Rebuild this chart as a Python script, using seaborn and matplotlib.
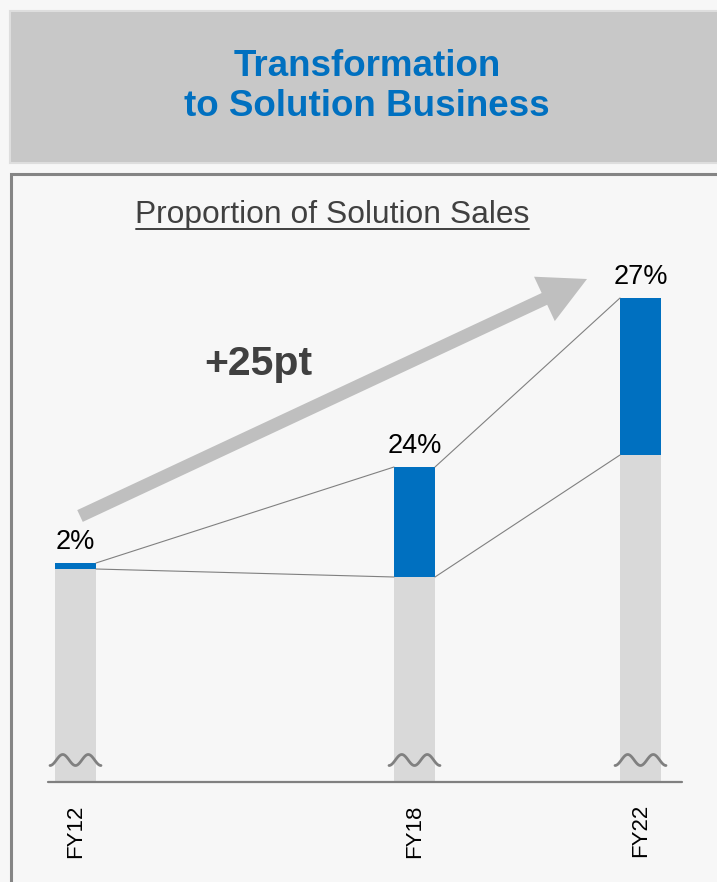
import numpy as np
import pandas as pd
import matplotlib
matplotlib.use("Agg")
import matplotlib.pyplot as plt
from matplotlib.patches import Rectangle, FancyArrow
import seaborn as sns

# chart data (heights in display units above the broken baseline)
fiscal_years = [12, 18, 22]
fy_labels = ["FY12", "FY18", "FY22"]
other_sales = [213, 205, 327]
solution_sales = [6, 110, 157]
share_labels = ["2%", "24%", "27%"]
growth_label = "+25pt"

BLUE = "#0070c0"
GREY_BAR = "#d9d9d9"
LINE = "#808080"
BG = "#f7f7f7"

sns.set_theme(style="white")
plt.rcParams["font.family"] = ["Liberation Sans", "DejaVu Sans"]

df = pd.DataFrame({
    "year": fiscal_years,
    "other": other_sales,
    "solution": solution_sales,
})
df["total"] = df["other"] + df["solution"]

W, H = 717, 882
fig = plt.figure(figsize=(W / 100, H / 100), dpi=100, facecolor=BG)

# overlay in pixel coordinates for the framing and annotations
deco = fig.add_axes([0, 0, 1, 1], zorder=0)
deco.set_xlim(0, W)
deco.set_ylim(H, 0)
deco.axis("off")

deco.add_patch(Rectangle((10, 11), 720, 152, facecolor="#c8c8c8",
                         edgecolor="#dedede", lw=1.5))
deco.add_patch(Rectangle((11, 174), 730, 740, facecolor=BG,
                         edgecolor="#858585", lw=2.2))
deco.text(367, 66, "Transformation", ha="center", va="center",
          fontsize=26.5, fontweight="bold", color=BLUE)
deco.text(367, 107, "to Solution Business", ha="center", va="center",
          fontsize=26.5, fontweight="bold", color=BLUE)

deco.text(332, 223, "Proportion of Solution Sales", ha="center",
          va="baseline", fontsize=22.9, color="#404040")
deco.plot([136, 529], [229, 229], color="#404040", lw=1.4)

deco.add_patch(FancyArrow(80, 516, 507, -237, width=13, head_width=49,
                          head_length=47, length_includes_head=True,
                          facecolor="#bfbfbf", edgecolor="none"))
deco.text(258, 364, growth_label, ha="center", va="center",
          fontsize=29.5, fontweight="bold", color="#404040")

# main chart axes: 56.5 px per fiscal year, 1 unit per px vertically
px_per_year = 56.5
x0 = 12 - 75.5 / px_per_year
ax = fig.add_axes([0, (H - 782) / H, 1, 608 / H], zorder=1)
ax.patch.set_visible(False)

bar_w = 41 / px_per_year
sns.barplot(data=df, x="year", y="total", native_scale=True,
            width=bar_w / 4, color=BLUE, saturation=1, errorbar=None,
            edgecolor="none", linewidth=0, ax=ax)
sns.barplot(data=df, x="year", y="other", native_scale=True,
            width=bar_w / 4, color=GREY_BAR, saturation=1, errorbar=None,
            edgecolor="none", linewidth=0, ax=ax)

ax.set_xlim(x0, x0 + W / px_per_year)
ax.set_ylim(0, 608)
sns.despine(ax=ax, left=True, bottom=True)
ax.set_yticks([])
ax.set_xlabel("")
ax.set_ylabel("")
ax.set_xticks(fiscal_years)
ax.set_xticklabels(fy_labels, rotation=90, fontsize=16, color="black")
ax.tick_params(axis="x", length=0, pad=16)

# connectors between bar edges
half = bar_w / 2
for i in range(len(df) - 1):
    xa = df["year"][i] + half
    xb = df["year"][i + 1] - half
    ax.plot([xa, xb], [df["total"][i], df["total"][i + 1]], color=LINE, lw=0.8)
    ax.plot([xa, xb], [df["other"][i], df["other"][i + 1]], color=LINE, lw=0.8)

# share labels above bars
for x, top, lab in zip(df["year"], df["total"], share_labels):
    ax.text(x, top + 8, lab, ha="center", va="bottom", fontsize=19.5, color="black")

# axis break marks and baseline
t = np.linspace(0, 1, 80)
wave_w = 51 / px_per_year
for x in df["year"]:
    ax.plot(x + (t - 0.5) * wave_w, 22 - 5.5 * np.cos(4 * np.pi * t),
            color=LINE, lw=2)
ax.plot([x0 + 48 / px_per_year, x0 + 682 / px_per_year], [0, 0],
        color=LINE, lw=1.6, clip_on=False)

fig.savefig("out.png", dpi=100, facecolor=BG)
